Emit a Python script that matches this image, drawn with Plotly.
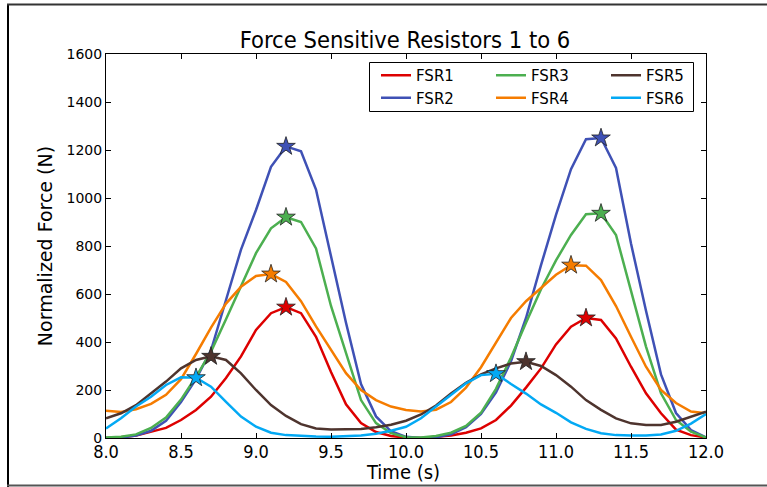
import plotly.graph_objects as go

time_s = [8.0, 8.1, 8.2, 8.3, 8.4, 8.5, 8.6, 8.7, 8.8, 8.9,
          9.0, 9.1, 9.2, 9.3, 9.4, 9.5, 9.6, 9.7, 9.8, 9.9,
          10.0, 10.1, 10.2, 10.3, 10.4, 10.5, 10.6, 10.7, 10.8, 10.9,
          11.0, 11.1, 11.2, 11.3, 11.4, 11.5, 11.6, 11.7, 11.8, 11.9, 12.0]

fsr1 = [0, 3, 10, 25, 42, 75, 117, 172, 250, 340, 450, 520, 545, 520, 422, 275, 140, 62, 25, 8,
        2, 0, 4, 10, 22, 40, 75, 135, 210, 290, 390, 464, 500, 492, 415, 297, 186, 103, 35, 12, 2]
fsr2 = [0, 2, 10, 30, 72, 150, 245, 365, 575, 785, 950, 1130, 1215, 1195, 1035, 760, 480, 225, 90, 28,
        5, 0, 3, 15, 45, 100, 190, 320, 500, 720, 930, 1120, 1245, 1250, 1125, 810, 530, 265, 104, 33, 3]
fsr3 = [2, 5, 15, 42, 85, 160, 255, 360, 495, 635, 770, 874, 920, 900, 790, 550, 354, 158, 62, 20,
        3, 2, 8, 22, 50, 105, 205, 335, 480, 620, 740, 846, 932, 936, 846, 617, 381, 186, 75, 26, 2]
fsr4 = [114, 108, 120, 142, 180, 245, 350, 460, 560, 630, 675, 683, 650, 570, 465, 367, 270, 200, 158, 131,
        117, 110, 118, 150, 210, 295, 400, 500, 570, 625, 680, 720, 718, 658, 550, 422, 297, 200, 146, 110, 103]
fsr5 = [82, 103, 137, 186, 235, 290, 325, 340, 325, 269, 200, 137, 92, 58, 40, 35, 35, 38, 45, 55,
        72, 98, 135, 185, 230, 265, 290, 310, 318, 300, 262, 214, 158, 117, 82, 61, 54, 54, 68, 89, 110]
fsr6 = [40, 82, 131, 172, 221, 253, 251, 214, 151, 89, 47, 22, 12, 8, 6, 5, 6, 10, 18, 30,
        47, 82, 131, 179, 228, 262, 268, 225, 185, 140, 105, 65, 38, 20, 12, 10, 10, 15, 30, 60, 100]

names = ["FSR1", "FSR2", "FSR3", "FSR4", "FSR5", "FSR6"]
series = [fsr1, fsr2, fsr3, fsr4, fsr5, fsr6]
colors = ["#dd0000", "#3f51b5", "#4caf50", "#f57c00", "#4e342e", "#03a9f4"]
peak_times = [[9.2, 11.2], [9.2, 11.3], [9.2, 11.3], [9.1, 11.1], [8.7, 10.8], [8.6, 10.6]]
legend_column = ["legend", "legend", "legend2", "legend2", "legend3", "legend3"]

x_ticks = [8.0, 8.5, 9.0, 9.5, 10.0, 10.5, 11.0, 11.5, 12.0]
y_ticks = [0, 200, 400, 600, 800, 1000, 1200, 1400, 1600]

fig = go.Figure()
for name, ys, col, lg in zip(names, series, colors, legend_column):
    fig.add_trace(go.Scatter(x=time_s, y=ys, mode="lines", name=name, legend=lg,
                             line=dict(color=col, width=2.5)))
for name, ys, col, pts in zip(names, series, colors, peak_times):
    idx = [time_s.index(p) for p in pts]
    fig.add_trace(go.Scatter(x=[time_s[i] for i in idx], y=[ys[i] for i in idx],
                             mode="markers", showlegend=False,
                             marker=dict(symbol="star", size=14, color=col,
                                         line=dict(color="#222222", width=0.8))))

L, R, T, B = 106, 61, 54, 49
W, H = 767, 487
pw, ph = W - L - R, H - T - B

def px(x):
    return (x - L) / pw

def py(y):
    return (H - B - y) / ph

shapes = [
    dict(type="line", xref="paper", yref="paper", x0=px(8), x1=px(8), y0=py(4), y1=py(487),
         line=dict(color="black", width=2)),
    dict(type="line", xref="paper", yref="paper", x0=px(7), x1=px(767), y0=py(4.5), y1=py(4.5),
         line=dict(color="#333333", width=2)),
    dict(type="line", xref="paper", yref="paper", x0=px(7), x1=px(767), y0=py(485.5), y1=py(485.5),
         line=dict(color="#555555", width=2)),
    dict(type="rect", xref="paper", yref="paper", x0=px(369.5), x1=px(693.5), y0=py(62.5), y1=py(111.5),
         line=dict(color="black", width=1), fillcolor="white", layer="above"),
]

legend_font = dict(family="DejaVu Sans", size=15, color="black")
legend_common = dict(orientation="v", xanchor="left", yanchor="top", bgcolor="rgba(0,0,0,0)",
                     borderwidth=0, font=legend_font, tracegroupgap=0, itemwidth=30)

fig.update_layout(
    width=W, height=H,
    margin=dict(l=L, r=R, t=T, b=B, pad=0),
    paper_bgcolor="white", plot_bgcolor="white",
    title=dict(text="Force Sensitive Resistors 1 to 6", x=405 / W, xanchor="center",
               y=1 - 40 / H, yanchor="middle",
               font=dict(family="DejaVu Sans Condensed", size=23.5, color="black")),
    xaxis=dict(range=[8, 12], tickvals=x_ticks, ticktext=[f"{v:.1f}" for v in x_ticks],
               ticks="inside", ticklen=5, tickcolor="black", showline=True, linecolor="black",
               linewidth=1, mirror="ticks", showgrid=False, zeroline=False, automargin=False,
               ticklabelstandoff=-3,
               tickfont=dict(family="DejaVu Sans Condensed", size=18, color="black")),
    yaxis=dict(range=[0, 1600], tickvals=y_ticks, ticks="inside", ticklen=5, tickcolor="black",
               showline=True, linecolor="black", linewidth=1, mirror="ticks", showgrid=False,
               zeroline=False, automargin=False,
               tickfont=dict(family="DejaVu Sans", size=14, color="black"),
               title=dict(text="Normalized Force (N)", standoff=8,
                          font=dict(family="DejaVu Sans", size=19, color="black"))),
    annotations=[dict(text="Time (s)", xref="paper", yref="paper", x=px(403), y=py(472),
                      xanchor="center", yanchor="middle", showarrow=False,
                      font=dict(family="DejaVu Sans Condensed", size=20, color="black"))],
    legend=dict(x=px(376), y=py(59), **legend_common),
    legend2=dict(x=px(491), y=py(59), **legend_common),
    legend3=dict(x=px(606), y=py(59), **legend_common),
    shapes=shapes,
    showlegend=True,
)

fig.write_html("out.html")
